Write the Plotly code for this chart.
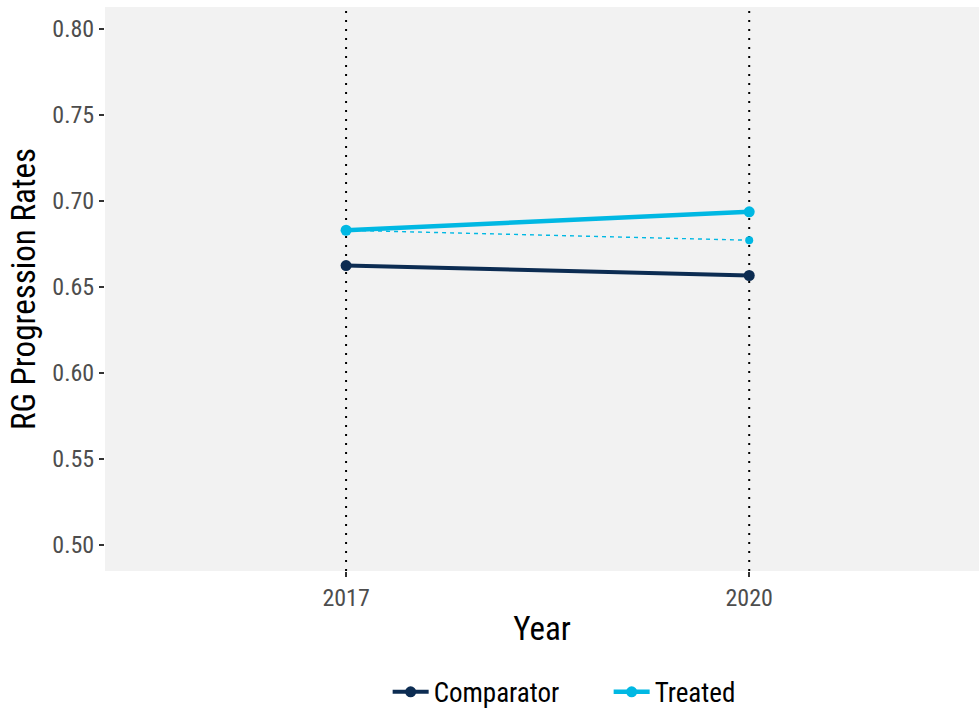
import plotly.graph_objects as go

years = [2017, 2020]
comparator = [0.6625, 0.6567]
treated = [0.6830, 0.6937]
counterfactual = [0.6830, 0.6772]
y_ticks = [0.50, 0.55, 0.60, 0.65, 0.70, 0.75, 0.80]

NAVY = "#0c2c52"
CYAN = "#00b8e3"
FONT = "Roboto Condensed, Liberation Sans Narrow, Roboto, sans-serif"

fig = go.Figure()
fig.add_trace(go.Scatter(x=years, y=counterfactual, mode="lines+markers",
                         line=dict(color=CYAN, width=1.4, dash="4px,4px"),
                         marker=dict(size=8, color=CYAN), showlegend=False))
fig.add_trace(go.Scatter(x=years, y=comparator, mode="lines+markers", name="Comparator",
                         line=dict(color=NAVY, width=4), marker=dict(size=11, color=NAVY)))
fig.add_trace(go.Scatter(x=years, y=treated, mode="lines+markers", name="Treated",
                         line=dict(color=CYAN, width=4.5), marker=dict(size=11, color=CYAN)))

for yr in years:
    fig.add_vline(x=yr, line=dict(color="black", width=2, dash="2px,7px"), layer="below")

fig.update_layout(
    width=979, height=710,
    margin=dict(l=105, r=0, t=7, b=139, autoexpand=False),
    paper_bgcolor="white", plot_bgcolor="#f2f2f2",
    font=dict(family=FONT, size=24, color="#4d4d4d"),
    legend=dict(orientation="h", x=0.3234, xanchor="left", y=-0.215, yanchor="middle",
                font=dict(size=27, color="black"), traceorder="normal",
                itemwidth=36, entrywidth=170),
    xaxis=dict(range=[2015.206, 2021.71], tickvals=years, ticktext=[str(y) for y in years],
               showgrid=False, zeroline=False, ticks="outside", ticklen=5, tickwidth=1.5,
               tickcolor="#333333", automargin=False,
               title=dict(text="Year", font=dict(size=33, color="black"), standoff=6)),
    yaxis=dict(range=[0.4849, 0.8128], tickvals=y_ticks, ticktext=[f"{v:.2f}" for v in y_ticks],
               showgrid=False, zeroline=False, ticks="outside", ticklen=5, tickwidth=1.5,
               tickcolor="#333333", automargin=False,
               title=dict(text="RG Progression Rates", font=dict(size=33, color="black"), standoff=6)),
)

fig.write_html("out.html", config={"displayModeBar": False},
               post_script="document.body.style.margin='0';document.body.style.overflow='hidden';")
